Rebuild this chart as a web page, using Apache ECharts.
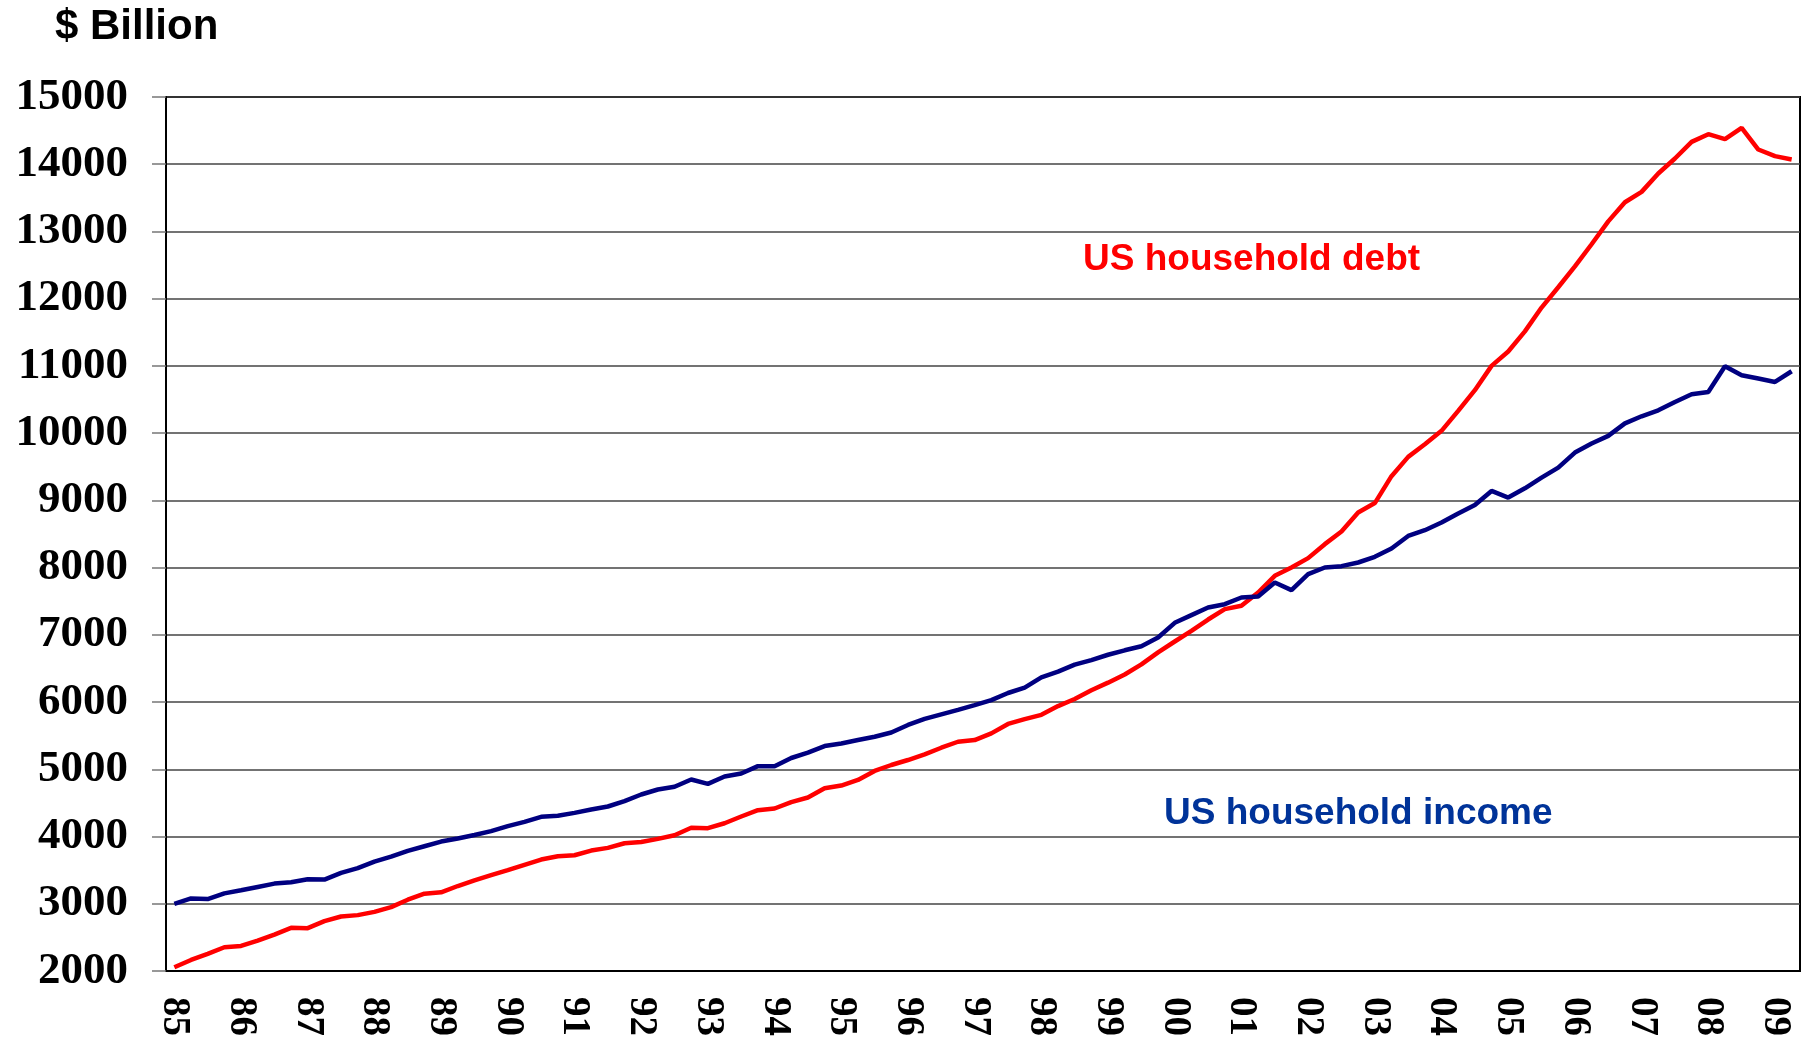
<!DOCTYPE html>
<html>
<head>
    <meta charset="UTF-8">
    <title>US household debt vs income</title>
    <style>
        html, body { margin: 0; padding: 0; background: #fff; }
    </style>
</head>
<body>
<div id="main" style="width: 1802px;height:1038px;"></div>
<script type="text/javascript" src="https://cdn.jsdelivr.net/npm/echarts@6/dist/echarts.min.js"></script>
<script type="text/javascript">
    // years shown on the axis, one label per year (Q1)
    var years = ['85', '86', '87', '88', '89', '90', '91', '92', '93', '94', '95', '96', '97',
        '98', '99', '00', '01', '02', '03', '04', '05', '06', '07', '08', '09'];
    var quarters = ['Q1', 'Q2', 'Q3', 'Q4'];

    // $ billion, quarterly from 85 Q1 to 09 Q2
    var debt = [
        2055, 2164, 2254, 2353, 2373, 2453, 2542, 2642, 2637, 2741, 2811, 2831,
        2880, 2950, 3060, 3150, 3170, 3264, 3348, 3425, 3500, 3580, 3658, 3707,
        3722, 3791, 3831, 3900, 3920, 3965, 4020, 4130, 4124, 4198, 4298, 4392,
        4417, 4513, 4580, 4718, 4758, 4842, 4975, 5064, 5138, 5222, 5321, 5410,
        5435, 5534, 5675, 5746, 5810, 5940, 6045, 6175, 6289, 6410, 6560, 6740,
        6901, 7060, 7228, 7382, 7432, 7630, 7878, 8002, 8141, 8349, 8538, 8820,
        8960, 9360, 9647, 9835, 10034, 10331, 10639, 11001, 11215, 11514, 11868, 12170,
        12480, 12810, 13150, 13435, 13589, 13862, 14085, 14333, 14447, 14373, 14541, 14219,
        14120, 14070
    ];
    var income = [
        3000, 3080, 3070, 3155, 3200, 3250, 3300, 3320, 3365, 3360, 3460, 3530,
        3627, 3700, 3786, 3856, 3925, 3970, 4022, 4080, 4154, 4218, 4293, 4308,
        4352, 4402, 4447, 4526, 4625, 4700, 4740, 4849, 4784, 4893, 4938, 5047,
        5045, 5168, 5247, 5346, 5385, 5435, 5484, 5548, 5660, 5750, 5818, 5885,
        5955, 6030, 6135, 6216, 6368, 6452, 6556, 6625, 6704, 6770, 6831, 6960,
        7179, 7293, 7407, 7456, 7556, 7570, 7779, 7665, 7903, 8002, 8022, 8076,
        8160, 8285, 8471, 8556, 8670, 8804, 8932, 9141, 9042, 9180, 9339, 9488,
        9711, 9845, 9959, 10145, 10251, 10340, 10464, 10578, 10613, 10995, 10861, 10812,
        10762, 10921
    ];

    var categories = [];
    for (var i = 0; i < debt.length; i++) {
        categories.push(years[Math.floor(i / 4)] + ' ' + quarters[i % 4]);
    }

    var myChart = echarts.init(document.getElementById('main'));

    var serifBold = '"Liberation Serif", "Times New Roman", serif';

    var option = {
        animation: false,
        backgroundColor: '#fff',
        title: {
            text: '$ Billion',
            left: 50,
            top: 1,
            textStyle: {
                fontFamily: '"Liberation Sans", Arial, sans-serif',
                fontWeight: 'bold',
                fontSize: 42,
                color: '#000'
            }
        },
        grid: {
            left: 166,
            right: 2,
            top: 97,
            bottom: 67,
            show: true,
            borderColor: '#000',
            borderWidth: 2,
            containLabel: false,
            outerBoundsMode: 'none'
        },
        xAxis: {
            type: 'category',
            data: categories,
            boundaryGap: true,
            axisLine: { lineStyle: { color: '#000', width: 2 } },
            axisTick: {
                interval: 11,
                length: 12,
                lineStyle: { color: '#000', width: 1.5 }
            },
            axisLabel: {
                interval: 3,
                rotate: -90,
                margin: 26,
                fontFamily: serifBold,
                fontWeight: 'bold',
                fontSize: 39,
                color: '#000',
                formatter: function (v) { return v.slice(0, 2); }
            },
            splitLine: { show: false }
        },
        yAxis: {
            type: 'value',
            min: 2000,
            max: 15000,
            interval: 1000,
            axisLine: { show: true, lineStyle: { color: '#000', width: 2 } },
            axisTick: {
                show: true,
                length: 14,
                lineStyle: { color: '#777', width: 1.5 }
            },
            axisLabel: {
                margin: 38,
                fontFamily: serifBold,
                fontWeight: 'bold',
                fontSize: 45,
                color: '#000',
                formatter: function (v) { return String(v); }
            },
            splitLine: { lineStyle: { color: '#444', width: 1.5 } }
        },
        series: [
            {
                name: 'US household debt',
                type: 'line',
                data: debt,
                symbol: 'none',
                lineStyle: { color: '#ff0000', width: 4.5 },
                z: 3
            },
            {
                name: 'US household income',
                type: 'line',
                data: income,
                symbol: 'none',
                lineStyle: { color: '#000080', width: 4.5 },
                z: 4
            }
        ],
        graphic: [
            {
                type: 'text',
                left: 1083,
                top: 241,
                style: {
                    text: 'US household debt',
                    fill: '#ff0000',
                    font: 'bold 37px "Liberation Sans", Arial, sans-serif'
                }
            },
            {
                type: 'text',
                left: 1164,
                top: 795,
                style: {
                    text: 'US household income',
                    fill: '#003399',
                    font: 'bold 37px "Liberation Sans", Arial, sans-serif'
                }
            }
        ]
    };

    myChart.setOption(option);
</script>
</body>
</html>
